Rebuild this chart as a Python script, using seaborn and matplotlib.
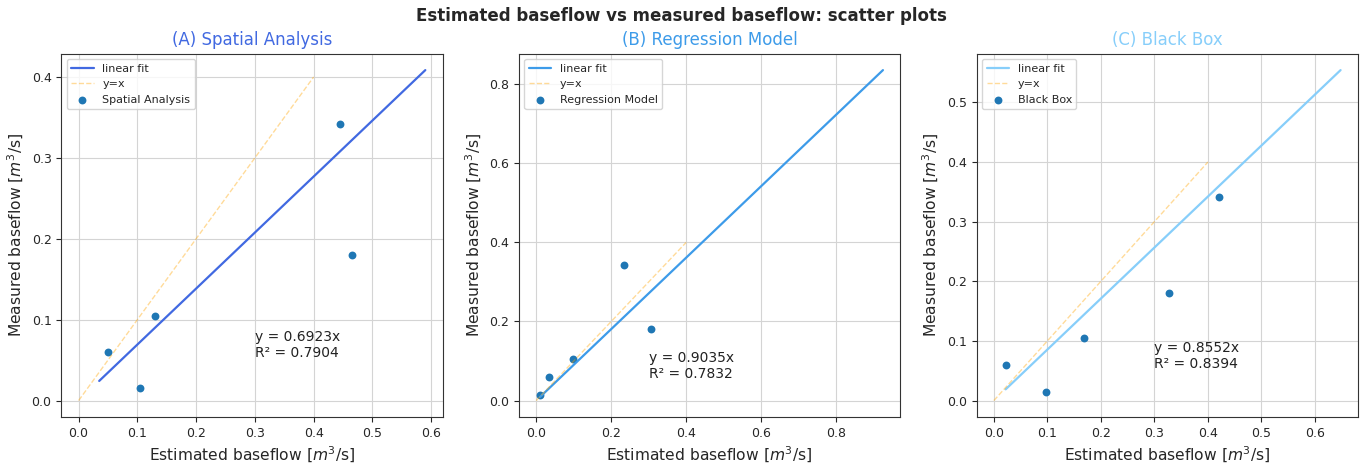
import numpy as np
import pandas as pd
import matplotlib
matplotlib.use("Agg")
import matplotlib.pyplot as plt
from matplotlib.ticker import MultipleLocator
import seaborn as sns

# measured baseflow (same catchments in every panel)
measured = [0.060, 0.015, 0.105, 0.342, 0.180]

# estimated baseflow per method
est_spatial = [0.050, 0.105, 0.130, 0.445, 0.465]
est_regression = [0.033, 0.010, 0.098, 0.235, 0.305]
est_blackbox = [0.023, 0.098, 0.168, 0.420, 0.327]

# fitted slopes and R2
slopes = [0.6923, 0.9035, 0.8552]
r2 = [0.7904, 0.7832, 0.8394]

# x-range of fitted lines
fit_x_spatial = [0.035, 0.59]
fit_x_regression = [0.01, 0.925]
fit_x_blackbox = [0.022, 0.648]

one_to_one = [0.0, 0.4]

names = ["Spatial Analysis", "Regression Model", "Black Box"]
letters = ["A", "B", "C"]
colors = ["royalblue", "#3d9be9", "lightskyblue"]

sns.set_style("ticks")
plt.rcParams["font.family"] = ["DejaVu Sans"]

fig, axes = plt.subplots(1, 3, figsize=(13.62, 4.66), dpi=100)

estimates = [est_spatial, est_regression, est_blackbox]
fit_xs = [fit_x_spatial, fit_x_regression, fit_x_blackbox]
y_steps = [0.1, 0.2, 0.1]

for i, ax in enumerate(axes):
    fx = np.array(fit_xs[i])
    sns.lineplot(x=fx, y=slopes[i] * fx, ax=ax, color=colors[i], lw=1.6,
                 label="linear fit")
    sns.lineplot(x=one_to_one, y=one_to_one, ax=ax, color="orange", alpha=0.4,
                 lw=1, linestyle="--", label="y=x")
    sns.scatterplot(x=estimates[i], y=measured, ax=ax, color="#1f77b4", s=32,
                    linewidth=0, label=names[i])
    ax.text(0.3, 0.05, f"y = {slopes[i]:.4f}x\nR² = {r2[i]:.4f}", fontsize=10,
            va="bottom", ha="left", color="#222222")
    ax.set_title(f"({letters[i]}) {names[i]}", color=colors[i], fontsize=12)
    ax.set_xlabel("Estimated baseflow [$m^3$/s]", fontsize=11.2)
    ax.set_ylabel("Measured baseflow [$m^3$/s]", fontsize=11.2)
    ax.yaxis.set_major_locator(MultipleLocator(y_steps[i]))
    ax.tick_params(labelsize=9)
    ax.grid(True, color="#d4d4d4", lw=0.8)
    ax.legend(loc="upper left", fontsize=8)
    for s in ax.spines.values():
        s.set_color("#333333")

fig.suptitle("Estimated baseflow vs measured baseflow: scatter plots",
             fontsize=12, fontweight="bold", y=0.985)
fig.subplots_adjust(left=0.045, right=0.997, top=0.885, bottom=0.105, wspace=0.2)
fig.savefig("out.png", dpi=100)
